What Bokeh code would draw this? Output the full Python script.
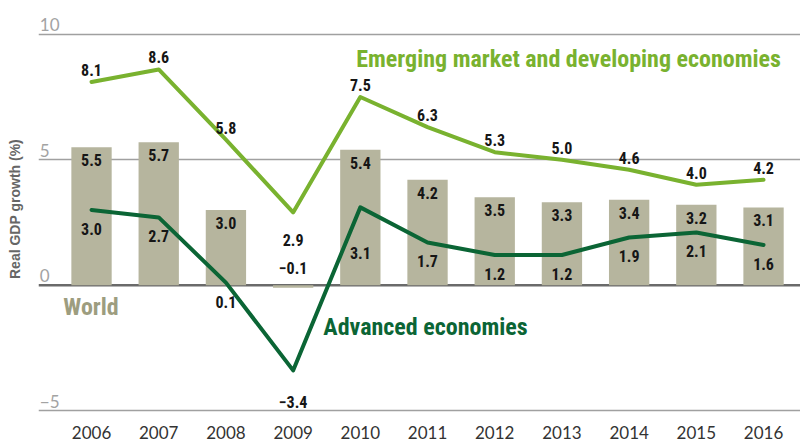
from bokeh.plotting import figure
from bokeh.models import ColumnDataSource, FixedTicker, Span, Label
from bokeh.core.properties import value
from bokeh.embed import file_html
from bokeh.resources import INLINE

# ---- data ----
years = [2006, 2007, 2008, 2009, 2010, 2011, 2012, 2013, 2014, 2015, 2016]
world = [5.5, 5.7, 3.0, -0.1, 5.4, 4.2, 3.5, 3.3, 3.4, 3.2, 3.1]
emerging = [8.1, 8.6, 5.8, 2.9, 7.5, 6.3, 5.3, 5.0, 4.6, 4.0, 4.2]
advanced = [3.0, 2.7, 0.1, -3.4, 3.1, 1.7, 1.2, 1.2, 1.9, 2.1, 1.6]
y_ticks = [-5, 0, 5, 10]
y_tick_labels = ["\u22125", "0", "5", "10"]
name_world = "World"
name_emerging = "Emerging market and developing economies"
name_advanced = "Advanced economies"
y_title = "Real GDP growth (%)"

# ---- styles ----
BAR = "#b6b59e"
WORLD_TXT = "#9d9d7f"
EM = "#79b22f"
ADV = "#0b6535"
NARROW = "Roboto Condensed"
SANS = "Lato"


def fmt(v):
    return f"{v:.1f}".replace("-", "\u2212")


x0, x1 = 2005.211, 2016.55
p = figure(width=800, height=441, x_range=(x0, x1), y_range=(-5.278, 11.349),
           output_backend="svg", toolbar_location=None,
           min_border_left=38, min_border_right=0, min_border_top=0,
           min_border_bottom=22)
p.outline_line_color = None
p.background_fill_color = "white"
p.xgrid.visible = False
p.ygrid.ticker = FixedTicker(ticks=[t for t in y_ticks if t != 0])
p.ygrid.grid_line_color = "#a0a0a0"
p.ygrid.grid_line_width = 1.5

zero = Span(location=0, dimension="width", line_color="#6a6a6a", line_width=2.5,
            level="underlay")
p.add_layout(zero)

# axes
p.xaxis.ticker = FixedTicker(ticks=years)
p.xaxis.axis_line_color = None
p.xaxis.major_tick_line_color = None
p.xaxis.minor_tick_line_color = None
p.xaxis.major_label_text_font = SANS
p.xaxis.major_label_text_font_size = "17px"
p.xaxis.major_label_text_color = "#333333"
p.xaxis.major_label_standoff = 2

p.yaxis.ticker = FixedTicker(ticks=[])
p.yaxis.axis_label = y_title
p.yaxis.axis_line_color = None
p.yaxis.major_tick_line_color = None
p.yaxis.minor_tick_line_color = None
p.yaxis.axis_label_text_font = "Liberation Sans"
p.yaxis.axis_label_text_font_style = "bold"
p.yaxis.axis_label_text_font_size = "14px"
p.yaxis.axis_label_text_color = "#666666"
p.yaxis.axis_label_standoff = 16

# y tick labels drawn above their gridlines
tick_src = ColumnDataSource(dict(x=[x0 + 0.02] * len(y_ticks), y=y_ticks, t=y_tick_labels))
p.text(x="x", y="y", text="t", source=tick_src, text_font=value(SANS),
       text_font_size="17px", text_color="#a3a3a3", text_baseline="bottom",
       text_align="left", y_offset=-3)

# bars
bar_src = ColumnDataSource(dict(x=years, top=world))
p.vbar(x="x", top="top", width=0.6, source=bar_src, fill_color=BAR, line_color=None)

# lines
p.line(years, emerging, line_color=EM, line_width=4, line_join="round", line_cap="round")
p.line(years, advanced, line_color=ADV, line_width=4, line_join="round", line_cap="round")

# value labels
lab_style = dict(text_font=value(NARROW), text_font_style="bold", text_font_size="16px",
                 text_color="#161616", text_align="center", text_baseline="middle")

w_y = [v if v >= 0 else 0 for v in world]
w_off = [13 if v >= 0 else -17 for v in world]
p.text(x=years, y=w_y, text=[fmt(v) for v in world], y_offset=w_off, **lab_style)


def is_local_min(seq, i):
    return 0 < i < len(seq) - 1 and seq[i] < seq[i - 1] - 1 and seq[i] < seq[i + 1] - 1


e_off = [28 if is_local_min(emerging, i) else -12 for i in range(len(emerging))]
p.text(x=years, y=emerging, text=[fmt(v) for v in emerging], y_offset=e_off, **lab_style)

a_off = []
for i, v in enumerate(advanced):
    if i > 0 and v - advanced[i - 1] > 4:
        a_off.append(46)      # steep rise from the left: move clear of the line
    elif is_local_min(advanced, i):
        a_off.append(32)
    else:
        a_off.append(19)
p.text(x=years, y=advanced, text=[fmt(v) for v in advanced], y_offset=a_off, **lab_style)

# series names
name_style = dict(text_font=NARROW, text_font_style="bold", text_font_size="24px",
                  text_baseline="middle", text_align="left")
p.add_layout(Label(x=2009.94, y=9.0, text=name_emerging, text_color=EM, **name_style))
p.add_layout(Label(x=2009.45, y=-1.67, text=name_advanced, text_color=ADV, **name_style))
p.add_layout(Label(x=2005.58, y=-0.87, text=name_world, text_color=WORLD_TXT, **name_style))

open("out.html", "w").write(file_html(p, INLINE))
